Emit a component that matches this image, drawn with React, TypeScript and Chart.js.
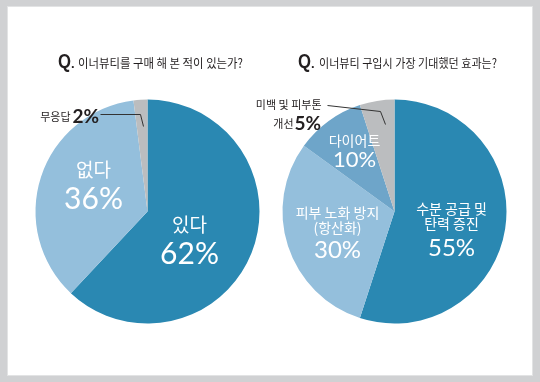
import React, { useEffect, useRef } from 'react';
import { Chart, registerables } from 'chart.js';

Chart.register(...registerables);

// ---------- data ----------
const leftCategories = ['있다', '없다', '무응답'];
const leftValues = [62, 36, 2];
const rightCategories = ['수분 공급 및 탄력 증진', '피부 노화 방지 (항산화)', '다이어트', '미백 및 피부톤 개선'];
const rightValues = [55, 30, 10, 5];
const leftTitle = '이너뷰티를 구매 해 본 적이 있는가?';
const rightTitle = '이너뷰티 구입시 가장 기대했던 효과는?';
const leftLabelLines = [['있다'], ['없다'], ['무응답']];
const rightLabelLines = [['수분 공급 및', '탄력 증진'], ['피부 노화 방지', '(항산화)'], ['다이어트'], ['미백 및 피부톤', '개선']];

// ---------- styles ----------
const leftColors = ['#2a88b2', '#94bfdc', '#bbbdbf'];
const rightColors = ['#2a88b2', '#94bfdc', '#6ea5c9', '#bbbdbf'];
const KR = '"Noto Sans CJK KR", "Noto Sans", sans-serif';
const NUM = 'Lato, "Open Sans", sans-serif';

type Inner = { idx: number; dx: number; lineDy: number[]; pctDy: number; krSize: number; pctSize: number };
type Callout = { idx: number; krRight: number[]; krDy: number[]; pctX: number; pctDy: number; line: [number, number][] };
type Cfg = {
  title: string; qX: number; tX: number; tW: number;
  lines: string[][]; values: number[];
  inner: Inner[]; callout: Callout;
};

function makePlugin(cfg: Cfg) {
  return {
    id: 'decor',
    afterDraw(chart: any) {
      const ctx = chart.ctx as CanvasRenderingContext2D;
      const arc: any = chart.getDatasetMeta(0).data[0];
      const cx = arc.x, cy = arc.y;
      ctx.save();
      // title
      ctx.fillStyle = '#231f20';
      ctx.textBaseline = 'alphabetic';
      ctx.textAlign = 'left';
      ctx.font = `bold 20px "Liberation Sans", Arial, sans-serif`;
      ctx.fillText('Q', cfg.qX, 68, 13);
      ctx.font = `bold 13px "Liberation Sans", Arial, sans-serif`;
      ctx.fillText('.', cfg.qX + 13, 68);
      ctx.font = `12.5px ${KR}`;
      ctx.fillText(cfg.title, cfg.tX, 68, cfg.tW);

      // inner labels
      ctx.fillStyle = '#ffffff';
      ctx.textAlign = 'center';
      ctx.textBaseline = 'middle';
      cfg.inner.forEach((it) => {
        const lines = cfg.lines[it.idx];
        ctx.font = `${it.krSize}px ${KR}`;
        lines.forEach((l, i) => ctx.fillText(l, cx + it.dx, cy + it.lineDy[i]));
        ctx.font = `${it.pctSize}px ${NUM}`;
        ctx.fillText(`${cfg.values[it.idx]}%`, cx + it.dx, cy + it.pctDy);
      });

      // callout
      const co = cfg.callout;
      ctx.fillStyle = '#231f20';
      ctx.textAlign = 'right';
      ctx.font = `11px ${KR}`;
      cfg.lines[co.idx].forEach((l, i) => ctx.fillText(l, cx + co.krRight[i], cy + co.krDy[i]));
      ctx.textAlign = 'left';
      ctx.font = `bold 19px ${NUM}`;
      ctx.fillText(`${cfg.values[co.idx]}%`, cx + co.pctX, cy + co.pctDy);
      ctx.strokeStyle = '#333333';
      ctx.lineWidth = 1;
      ctx.beginPath();
      co.line.forEach(([px, py], i) => (i === 0 ? ctx.moveTo(cx + px, cy + py) : ctx.lineTo(cx + px, cy + py)));
      ctx.stroke();
      ctx.restore();
    },
  };
}

const leftCfg: Cfg = {
  title: leftTitle, qX: 58, tX: 78, tW: 165,
  lines: leftLabelLines, values: leftValues,
  inner: [
    { idx: 0, dx: 42, lineDy: [13], pctDy: 43, krSize: 19, pctSize: 30 },
    { idx: 1, dx: -54, lineDy: [-42], pctDy: -12, krSize: 19, pctSize: 30 },
  ],
  callout: { idx: 2, krRight: [-77], krDy: [-95], pctX: -75, pctDy: -95, line: [[-47, -97], [-7, -97], [-4, -85]] },
};

const rightCfg: Cfg = {
  title: rightTitle, qX: 298, tX: 319, tW: 178,
  lines: rightLabelLines, values: rightValues,
  inner: [
    { idx: 0, dx: 57, lineDy: [-3, 12], pctDy: 37, krSize: 14, pctSize: 24 },
    { idx: 1, dx: -57, lineDy: [1, 16], pctDy: 39, krSize: 14, pctSize: 24 },
    { idx: 2, dx: -40, lineDy: [-71], pctDy: -52, krSize: 14, pctSize: 22 },
  ],
  callout: { idx: 3, krRight: [-73, -101], krDy: [-107, -88], pctX: -100, pctDy: -88, line: [[-67, -106], [-14, -100], [-9, -87]] },
};

function PieCanvas({ values, colors, labels, cfg, padding }: any) {
  const ref = useRef<HTMLCanvasElement | null>(null);
  useEffect(() => {
    if (!ref.current) return;
    const chart = new Chart(ref.current, {
      type: 'pie',
      data: {
        labels,
        datasets: [{ data: values, backgroundColor: colors, borderWidth: 0 }],
      },
      options: {
        responsive: false,
        animation: false,
        rotation: 0,
        layout: { padding },
        plugins: { legend: { display: false }, tooltip: { enabled: false }, title: { display: false } },
        events: [],
      },
      plugins: [makePlugin(cfg)],
    } as any);
    return () => chart.destroy();
  }, []);
  return (
    <canvas
      ref={ref}
      width={540}
      height={382}
      style={{ position: 'absolute', left: 0, top: 0, width: 540, height: 382 }}
    />
  );
}

export default function App() {
  useEffect(() => {
    document.body.style.margin = '0';
  }, []);
  return (
    <div style={{ position: 'relative', width: 540, height: 382, background: '#d0d1d3', overflow: 'hidden' }}>
      <div
        style={{
          position: 'absolute', left: 8, top: 7, width: 524, height: 368,
          background: '#ffffff', boxShadow: '0 0 0 1px #e2e3e4',
        }}
      />
      <PieCanvas
        values={leftValues}
        colors={leftColors}
        labels={leftCategories}
        cfg={leftCfg}
        padding={{ left: 35.5, right: 280.5, top: 99.5, bottom: 58.5 }}
      />
      <PieCanvas
        values={rightValues}
        colors={rightColors}
        labels={rightCategories}
        cfg={rightCfg}
        padding={{ left: 282.5, right: 33.5, top: 99.5, bottom: 58.5 }}
      />
    </div>
  );
}
